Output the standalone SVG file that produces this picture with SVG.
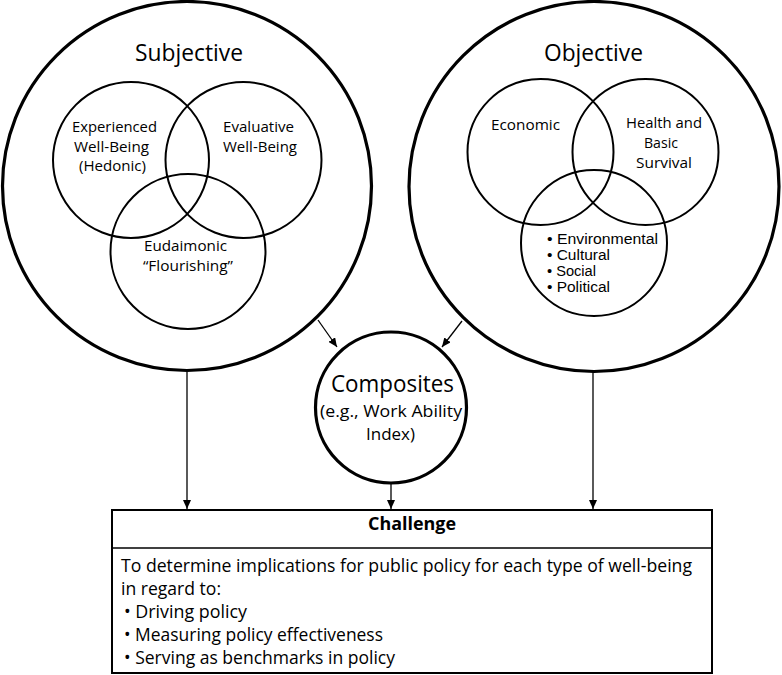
<svg xmlns="http://www.w3.org/2000/svg" width="782" height="675" viewBox="0 0 782 675">
<style>
text{font-family:"Open Sans","Noto Sans","Liberation Sans",sans-serif;fill:#000;text-anchor:middle}
.big{fill:none;stroke:#000;stroke-width:3.2}
.inner{fill:none;stroke:#000;stroke-width:2}
.t1{font-size:24px}
.t2{font-size:15px}
.t3{font-size:15.5px}
.lbl{font-family:"Liberation Sans",Arial,sans-serif;font-size:13.8px;text-anchor:start}
.body{font-size:18px;text-anchor:start}
.hd{font-size:18px;font-weight:bold}
.conn line{stroke:#000;stroke-width:1.3}
</style>
<defs>
<marker id="ah" markerUnits="userSpaceOnUse" markerWidth="9" markerHeight="8" refX="9" refY="4" orient="auto">
<path d="M0,0 L9,4 L0,8 z" fill="#000"/>
</marker>
</defs>
<g id="subjective">
<circle class="big" cx="187" cy="186" r="184.5"/>
<text class="t1" x="189" y="61" textLength="108" lengthAdjust="spacingAndGlyphs">Subjective</text>
<g id="experienced">
<circle class="inner" cx="131" cy="160" r="78"/>
<text class="t2" x="114.5" y="132" textLength="85" lengthAdjust="spacingAndGlyphs">Experienced</text>
<text class="t2" x="111.5" y="152" textLength="75" lengthAdjust="spacingAndGlyphs">Well-Being</text>
<text class="t2" x="112.5" y="171" textLength="67" lengthAdjust="spacingAndGlyphs">(Hedonic)</text>
</g>
<g id="evaluative">
<circle class="inner" cx="243.5" cy="160" r="78"/>
<text class="t2" x="258.5" y="132" textLength="71" lengthAdjust="spacingAndGlyphs">Evaluative</text>
<text class="t2" x="260" y="152" textLength="74" lengthAdjust="spacingAndGlyphs">Well-Being</text>
</g>
<g id="eudaimonic">
<circle class="inner" cx="188" cy="251.5" r="77.5"/>
<text class="t2" x="185.5" y="251" textLength="83" lengthAdjust="spacingAndGlyphs">Eudaimonic</text>
<text class="t2" x="188" y="271" textLength="90" lengthAdjust="spacingAndGlyphs">“Flourishing”</text>
</g>
</g>
<g id="objective">
<circle class="big" cx="594" cy="186.5" r="185"/>
<text class="t1" x="593.5" y="61" textLength="99" lengthAdjust="spacingAndGlyphs">Objective</text>
<g id="economic">
<circle class="inner" cx="540.5" cy="152" r="73"/>
<text class="t2" x="525.5" y="130" textLength="69" lengthAdjust="spacingAndGlyphs">Economic</text>
</g>
<g id="health">
<circle class="inner" cx="645.5" cy="152" r="73"/>
<text class="t2" x="664" y="128" textLength="76" lengthAdjust="spacingAndGlyphs">Health and</text>
<text class="t2" x="661" y="148" textLength="34" lengthAdjust="spacingAndGlyphs">Basic</text>
<text class="t2" x="664" y="168" textLength="56" lengthAdjust="spacingAndGlyphs">Survival</text>
</g>
<g id="other">
<circle class="inner" cx="594" cy="243" r="73"/>
<text class="lbl" x="547" y="244" textLength="111" lengthAdjust="spacingAndGlyphs">• Environmental</text>
<text class="lbl" x="547" y="260" textLength="63" lengthAdjust="spacingAndGlyphs">• Cultural</text>
<text class="lbl" x="547" y="276" textLength="49" lengthAdjust="spacingAndGlyphs">• Social</text>
<text class="lbl" x="547" y="292" textLength="63" lengthAdjust="spacingAndGlyphs">• Political</text>
</g>
</g>
<g id="composites">
<circle class="big" cx="391" cy="407.5" r="75.5"/>
<text class="t1" x="392.5" y="392" textLength="123" lengthAdjust="spacingAndGlyphs">Composites</text>
<text class="t3" x="391" y="417" textLength="142" lengthAdjust="spacingAndGlyphs">(e.g., Work Ability</text>
<text class="t3" x="390.5" y="440" textLength="49" lengthAdjust="spacingAndGlyphs">Index)</text>
</g>
<g id="challenge">
<rect x="112" y="510" width="600" height="163" fill="none" stroke="#000" stroke-width="2"/>
<line x1="112" y1="548" x2="712" y2="548" stroke="#000" stroke-width="1.5"/>
<text class="hd" x="412" y="530" textLength="88" lengthAdjust="spacingAndGlyphs">Challenge</text>
<text class="body" x="121" y="572" textLength="571" lengthAdjust="spacingAndGlyphs">To determine implications for public policy for each type of well-being</text>
<text class="body" x="121" y="595" textLength="100" lengthAdjust="spacingAndGlyphs">in regard to:</text>
<text class="body" x="124" y="618" textLength="123" lengthAdjust="spacingAndGlyphs">• Driving policy</text>
<text class="body" x="124" y="641" textLength="259" lengthAdjust="spacingAndGlyphs">• Measuring policy effectiveness</text>
<text class="body" x="124" y="664" textLength="271" lengthAdjust="spacingAndGlyphs">• Serving as benchmarks in policy</text>
</g>
<g id="connectors" class="conn">
<line x1="318" y1="320" x2="337" y2="347" marker-end="url(#ah)"/>
<line x1="462" y1="321" x2="442" y2="347" marker-end="url(#ah)"/>
<line x1="187" y1="372" x2="187" y2="509" marker-end="url(#ah)"/>
<line x1="391" y1="484" x2="391" y2="509" marker-end="url(#ah)"/>
<line x1="593" y1="372" x2="593" y2="509" marker-end="url(#ah)"/>
</g>
</svg>
